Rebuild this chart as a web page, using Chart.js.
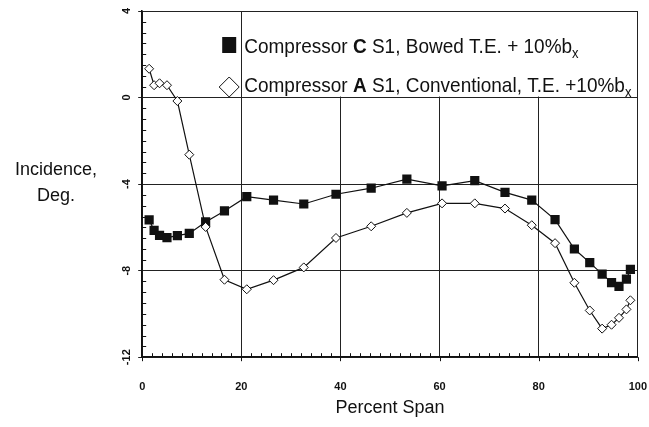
<!DOCTYPE html>
<html>
<head>
<meta charset="utf-8">
<script src="https://cdn.jsdelivr.net/npm/chart.js@4/dist/chart.umd.min.js"></script>
<style>
  html, body { margin: 0; padding: 0; background: #fff; }
  #wrap { width: 649px; height: 427px; }
</style>
</head>
<body>
<div id="wrap"><canvas id="incidenceChart" width="649" height="427"></canvas></div>
<script>
// Percent span stations (same for both rotors)
const spanPct = [1.4, 2.4, 3.5, 5.0, 7.1, 9.5, 12.8, 16.6, 21.1, 26.5, 32.6, 39.1, 46.2,
                 53.4, 60.5, 67.1, 73.2, 78.6, 83.3, 87.2, 90.3, 92.8, 94.7, 96.2, 97.7, 98.5];

// Incidence, deg
const compC = [-5.65, -6.14, -6.37, -6.47, -6.38, -6.28, -5.75, -5.24, -4.58, -4.74, -4.92, -4.47, -4.19,
               -3.77, -4.08, -3.84, -4.38, -4.74, -5.64, -7.0, -7.63, -8.16, -8.55, -8.73, -8.39, -7.94];
const compA = [1.33, 0.57, 0.66, 0.57, -0.16, -2.64, -5.98, -8.42, -8.86, -8.44, -7.85, -6.49, -5.95,
               -5.33, -4.89, -4.89, -5.13, -5.90, -6.73, -8.56, -9.84, -10.68, -10.5, -10.18, -9.79, -9.37];

const xTicks = [0, 20, 40, 60, 80, 100];
const yTicks = [-12, -8, -4, 0, 4];

const FONT = "'Liberation Sans', Arial, Helvetica, sans-serif";
const INK = '#111';

const toPoints = (ys) => ys.map((y, i) => ({ x: spanPct[i], y: y }));

// small inward ticks between the labelled ones, short outward ones at the labels
const minorTicks = {
    id: 'minorTicks',
    afterDraw(chart) {
        const { ctx, chartArea: a, scales: { x, y } } = chart;
        ctx.save();
        ctx.strokeStyle = INK;
        ctx.lineWidth = 1;
        ctx.beginPath();
        for (let v = -12; v <= 4; v += 0.5) {
            if (v % 4 === 0) continue;
            const py = Math.round(y.getPixelForValue(v)) + 0.5;
            ctx.moveTo(a.left, py);
            ctx.lineTo(a.left + 4, py);
        }
        for (let v = 0; v <= 100; v += 2) {
            const px = Math.round(x.getPixelForValue(v)) + 0.5;
            if (v % 20 === 0) {
                ctx.moveTo(px, a.bottom);
                ctx.lineTo(px, a.bottom + 4);
            } else {
                ctx.moveTo(px, a.bottom);
                ctx.lineTo(px, a.bottom - 4);
            }
        }
        ctx.stroke();
        ctx.restore();
    }
};

// draws a row of text pieces, some bold, with a trailing subscript;
// glyphs are stretched a little in height like the printed legend
function drawRuns(ctx, x, y, runs, size) {
    const stretch = 1.1;
    runs.forEach(r => {
        let dy = 0;
        if (r.sub) {
            ctx.font = `${Math.round(size * 0.68)}px ${FONT}`;
            dy = 5;
        } else {
            ctx.font = `${r.bold ? 'bold ' : ''}${size}px ${FONT}`;
        }
        ctx.save();
        ctx.translate(x, y + dy);
        ctx.scale(1, stretch);
        ctx.fillText(r.t, 0, 0);
        ctx.restore();
        x += ctx.measureText(r.t).width;
    });
}

// boxed legend in the upper right of the plot + horizontal y title
const annotations = {
    id: 'annotations',
    afterDatasetsDraw(chart) {
        const { ctx, chartArea: a, scales: { x, y } } = chart;
        ctx.save();

        // legend background hides the grid behind it
        const bx = x.getPixelForValue(20) + 1;
        const by = y.getPixelForValue(0) - 1;
        ctx.fillStyle = '#fff';
        ctx.fillRect(bx, a.top + 1, a.right - bx - 1, by - a.top - 1);

        const mx = a.left + 87;
        const tx = a.left + 102;
        const row1 = a.top + 34, row2 = a.top + 76;

        ctx.fillStyle = INK;
        ctx.fillRect(mx - 7, row1 - 8, 14, 16);

        ctx.beginPath();
        ctx.moveTo(mx, row2 - 10);
        ctx.lineTo(mx + 10, row2);
        ctx.lineTo(mx, row2 + 10);
        ctx.lineTo(mx - 10, row2);
        ctx.closePath();
        ctx.fillStyle = '#fff';
        ctx.fill();
        ctx.strokeStyle = INK;
        ctx.lineWidth = 1;
        ctx.stroke();

        ctx.fillStyle = INK;
        ctx.textBaseline = 'alphabetic';
        ctx.textAlign = 'left';
        drawRuns(ctx, tx, row1 + 8, [
            { t: 'Compressor ' }, { t: 'C', bold: true }, { t: ' S1, Bowed T.E. + 10%b' }, { t: 'x', sub: true }
        ], 19);
        drawRuns(ctx, tx, row2 + 5, [
            { t: 'Compressor ' }, { t: 'A', bold: true }, { t: ' S1, Conventional, T.E. +10%b' }, { t: 'x', sub: true }
        ], 19);

        // y title, written horizontally left of the axis
        ctx.font = `18px ${FONT}`;
        ctx.textAlign = 'center';
        ctx.fillText('Incidence,', 56, 175);
        ctx.fillText('Deg.', 56, 201);
        ctx.restore();
    }
};

new Chart(document.getElementById('incidenceChart'), {
    type: 'line',
    data: {
        datasets: [
            {
                label: 'Compressor C S1, Bowed T.E. + 10%bx',
                data: toPoints(compC),
                borderColor: INK,
                borderWidth: 1.2,
                pointStyle: 'rect',
                pointRadius: 6.5,
                pointBackgroundColor: INK,
                pointBorderColor: INK,
                pointBorderWidth: 0,
                tension: 0,
                order: 1
            },
            {
                label: 'Compressor A S1, Conventional, T.E. +10%bx',
                data: toPoints(compA),
                borderColor: INK,
                borderWidth: 1.2,
                pointStyle: 'rectRot',
                pointRadius: 4.5,
                pointBackgroundColor: '#fff',
                pointBorderColor: INK,
                pointBorderWidth: 1,
                tension: 0,
                order: 0
            }
        ]
    },
    options: {
        responsive: false,
        animation: false,
        layout: { padding: { left: 119, right: 1, top: 11, bottom: 8 } },
        plugins: {
            legend: { display: false },
            tooltip: { enabled: false }
        },
        scales: {
            x: {
                type: 'linear',
                min: 0,
                max: 100,
                afterBuildTicks: (s) => { s.ticks = xTicks.map(v => ({ value: v })); },
                ticks: {
                    font: { family: FONT, size: 11, weight: 'bold' },
                    color: INK,
                    padding: 2,
                    maxRotation: 0
                },
                // long transparent tick space pushes the labels down
                grid: { color: '#222', lineWidth: 1, tickLength: 21, tickColor: 'rgba(0,0,0,0)' },
                border: { color: INK, width: 1.6 },
                title: {
                    display: true,
                    text: 'Percent Span',
                    font: { family: FONT, size: 18 },
                    color: INK,
                    padding: { top: 2, bottom: 0 }
                }
            },
            y: {
                min: -12,
                max: 4,
                afterBuildTicks: (s) => { s.ticks = yTicks.map(v => ({ value: v })); },
                ticks: {
                    font: { family: FONT, size: 11, weight: 'bold' },
                    color: INK,
                    padding: 3,
                    minRotation: 90,
                    maxRotation: 90,
                    crossAlign: 'center'
                },
                grid: { color: '#222', lineWidth: 1, tickLength: 4 },
                border: { color: INK, width: 1.6 }
            }
        }
    },
    plugins: [minorTicks, annotations]
});
</script>
</body>
</html>
